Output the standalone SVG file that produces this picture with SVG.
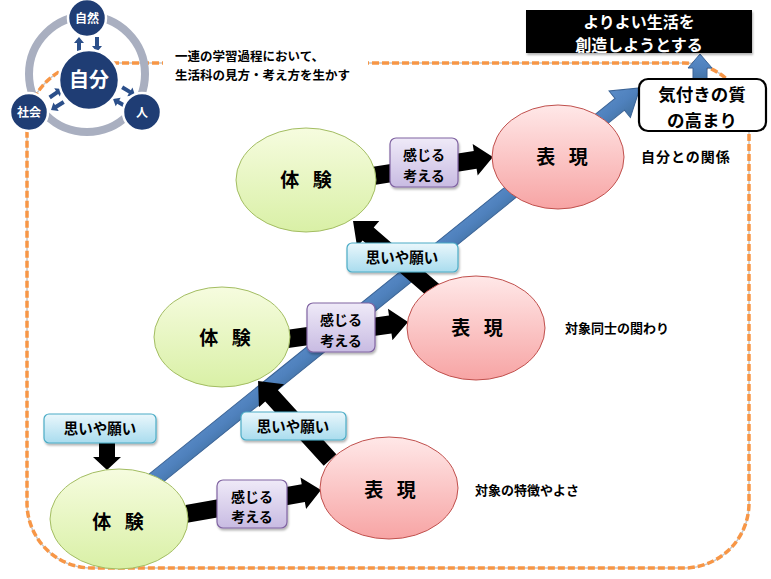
<svg xmlns="http://www.w3.org/2000/svg" xmlns:xlink="http://www.w3.org/1999/xlink" width="771" height="579" viewBox="0 0 771 579">
<style>
text{font-family:"Noto Sans CJK JP","Noto Sans CJK SC",sans-serif;font-weight:bold;text-anchor:middle;fill:#000}
.w{fill:#fff}
.l{text-anchor:start}
.grn{fill:url(#gG);stroke:#a3bd62;stroke-width:1}
.pnk{fill:url(#gP);stroke:#c0504d;stroke-width:1}
.pur{fill:url(#gV);stroke:#8064a2;stroke-width:1.2}
.blu{fill:url(#gB);stroke:#4bacc6;stroke-width:1.2}
.blk{fill:#000}
.nv{fill:#1f3d74;stroke:#fff;stroke-width:2.5}
.na{fill:#2b4f8a}
.ba{fill:url(#gA);stroke:#3a6396;stroke-width:1}
</style>
<defs>
<linearGradient id="gG" x1="0" y1="0" x2="0" y2="1"><stop offset="0" stop-color="#f6fcdf"/><stop offset="1" stop-color="#d9f0a6"/></linearGradient>
<linearGradient id="gP" x1="0" y1="0" x2="0" y2="1"><stop offset="0" stop-color="#ffe8e8"/><stop offset="1" stop-color="#f7a4a4"/></linearGradient>
<linearGradient id="gV" x1="0" y1="0" x2="0" y2="1"><stop offset="0" stop-color="#efeaf8"/><stop offset="1" stop-color="#c8bbe2"/></linearGradient>
<linearGradient id="gB" x1="0" y1="0" x2="0" y2="1"><stop offset="0" stop-color="#eaf7fc"/><stop offset="1" stop-color="#a9dcee"/></linearGradient>
<linearGradient id="gA" x1="0" y1="0" x2="0" y2="1"><stop offset="0" stop-color="#5a8cc8"/><stop offset="0.5" stop-color="#4f81bd"/><stop offset="1" stop-color="#41709f"/></linearGradient>
<filter id="sh" x="-10%" y="-10%" width="130%" height="140%"><feDropShadow dx="1" dy="2" stdDeviation="1.2" flood-opacity="0.3"/></filter>
<path id="sa" d="M0,0 L-6,-5 L-6,-2 L-15,-2 L-15,2 L-6,2 L-6,5 Z"/>
</defs>
<rect width="771" height="579" fill="#fff"/>

<g id="frame">
<rect x="27" y="63" width="722" height="505" rx="65" fill="none" stroke="#c8c8c8" stroke-width="1.5"/>
<rect x="27" y="63" width="722" height="505" rx="65" fill="none" stroke="#f79646" stroke-width="3.5" stroke-dasharray="7,3"/>
<rect x="163" y="44" width="205" height="40" fill="#fff"/>
<text class="l" font-size="12.5"><tspan x="175" y="61">一連の学習過程において、</tspan><tspan x="175" y="79.5">生活科の見方・考え方を生かす</tspan></text>
</g>

<g id="logo">
<circle cx="87" cy="74" r="58" fill="none" stroke="#a9afc0" stroke-width="8"/>
<use href="#sa" class="na" transform="translate(79,37) rotate(-90)"/>
<use href="#sa" class="na" transform="translate(97,52) rotate(90)"/>
<use href="#sa" class="na" transform="translate(62,89) rotate(-34.5)"/>
<use href="#sa" class="na" transform="translate(51,110) rotate(148)"/>
<use href="#sa" class="na" transform="translate(135,95) rotate(31)"/>
<use href="#sa" class="na" transform="translate(113,99) rotate(-150)"/>
<circle class="nv" cx="89" cy="80" r="30"/>
<circle class="nv" cx="87" cy="18" r="19"/>
<circle class="nv" cx="29" cy="112" r="19"/>
<circle class="nv" cx="142" cy="112" r="19"/>
<text class="w" x="89" y="87" font-size="20">自分</text>
<text class="w" x="87" y="23" font-size="12">自然</text>
<text class="w" x="29" y="117" font-size="12">社会</text>
<text class="w" x="142" y="117" font-size="12">人</text>
</g>

<g id="connectors">
<polygon class="ba" transform="translate(150,483) rotate(-38.88)" points="0,-7.5 603.4,-7.5 603.4,-17 629.4,0 603.4,17 603.4,7.5 0,7.5"/>
<polygon class="ba" points="693,82 693,68 688,68 700,54 712,68 707,68 707,82"/>
<polygon class="blk" transform="translate(360,178) rotate(-8.97)" points="0,-9 116.6,-9 116.6,-16 134.6,0 116.6,16 116.6,9 0,9"/>
<polygon class="blk" transform="translate(280,340) rotate(-8.0)" points="0,-9 111.3,-9 111.3,-16 129.3,0 111.3,16 111.3,9 0,9"/>
<polygon class="blk" transform="translate(180,515) rotate(-10.05)" points="0,-9 125.2,-9 125.2,-16 143.2,0 125.2,16 125.2,9 0,9"/>
<polygon class="blk" transform="translate(440,296) rotate(-139.2)" points="0,-8.5 94.9,-8.5 94.9,-17 114.9,0 94.9,17 94.9,8.5 0,8.5"/>
<polygon class="blk" transform="translate(330,460) rotate(-132.3)" points="0,-8.5 86.9,-8.5 86.9,-17 106.9,0 86.9,17 86.9,8.5 0,8.5"/>
<polygon class="blk" transform="translate(107,443) rotate(90)" points="0,-8 14,-8 14,-14 27,0 14,14 14,8 0,8"/>
</g>

<g id="taiken1"><ellipse class="grn" cx="306" cy="180" rx="70" ry="52"/><text x="306" y="187" font-size="19" word-spacing="9">体 験</text></g>
<g id="hyogen1"><ellipse class="pnk" cx="558" cy="157" rx="66" ry="52"/><text x="562" y="164" font-size="19" word-spacing="9">表 現</text></g>
<g id="taiken2"><ellipse class="grn" cx="222" cy="337" rx="68" ry="50"/><text x="225" y="345" font-size="19" word-spacing="9">体 験</text></g>
<g id="hyogen2"><ellipse class="pnk" cx="476" cy="328" rx="69" ry="52"/><text x="477" y="335" font-size="19" word-spacing="9">表 現</text></g>
<g id="taiken3"><ellipse class="grn" cx="119" cy="519" rx="69" ry="50"/><text x="118" y="529" font-size="19" word-spacing="9">体 験</text></g>
<g id="hyogen3"><ellipse class="pnk" cx="389" cy="488" rx="69" ry="51"/><text x="390" y="497" font-size="19" word-spacing="9">表 現</text></g>

<g id="kanjiru1"><rect class="pur" x="390" y="138" width="68" height="49" rx="6" filter="url(#sh)"/><text font-size="14"><tspan x="424" y="160">感じる</tspan><tspan x="424" y="180.5">考える</tspan></text></g>
<g id="kanjiru2"><rect class="pur" x="307" y="303" width="68" height="49" rx="6" filter="url(#sh)"/><text font-size="14"><tspan x="341" y="325">感じる</tspan><tspan x="341" y="345.5">考える</tspan></text></g>
<g id="kanjiru3"><rect class="pur" x="217" y="480" width="70" height="48" rx="6" filter="url(#sh)"/><text font-size="14"><tspan x="252" y="501.5">感じる</tspan><tspan x="252" y="522">考える</tspan></text></g>

<g id="omoi1"><rect class="blu" x="347" y="243" width="111" height="29" rx="5" filter="url(#sh)"/><text x="402" y="263" font-size="14.5">思いや願い</text></g>
<g id="omoi2"><rect class="blu" x="241" y="412" width="105" height="28" rx="5" filter="url(#sh)"/><text x="293" y="432" font-size="14.5">思いや願い</text></g>
<g id="omoi3"><rect class="blu" x="44" y="414" width="112" height="29" rx="5" filter="url(#sh)"/><text x="100" y="434" font-size="14.5">思いや願い</text></g>

<g id="label1"><text class="l" x="641" y="162" font-size="14" letter-spacing="1">自分との関係</text></g>
<g id="label2"><text class="l" x="565" y="333" font-size="13">対象同士の関わり</text></g>
<g id="label3"><text class="l" x="475" y="495" font-size="13">対象の特徴やよさ</text></g>

<g id="kizuki"><rect x="639" y="79" width="127" height="52" rx="9" fill="#fff" stroke="#000" stroke-width="2.2"/><text font-size="17.5"><tspan x="702" y="101">気付きの質</tspan><tspan x="702" y="126.5">の高まり</tspan></text></g>

<g id="goal"><rect x="526" y="10" width="226" height="43" fill="#000" filter="url(#sh)"/><text class="w" font-size="16"><tspan x="639" y="27.5">よりよい生活を</tspan><tspan x="639" y="50.8">創造しようとする</tspan></text></g>
</svg>
